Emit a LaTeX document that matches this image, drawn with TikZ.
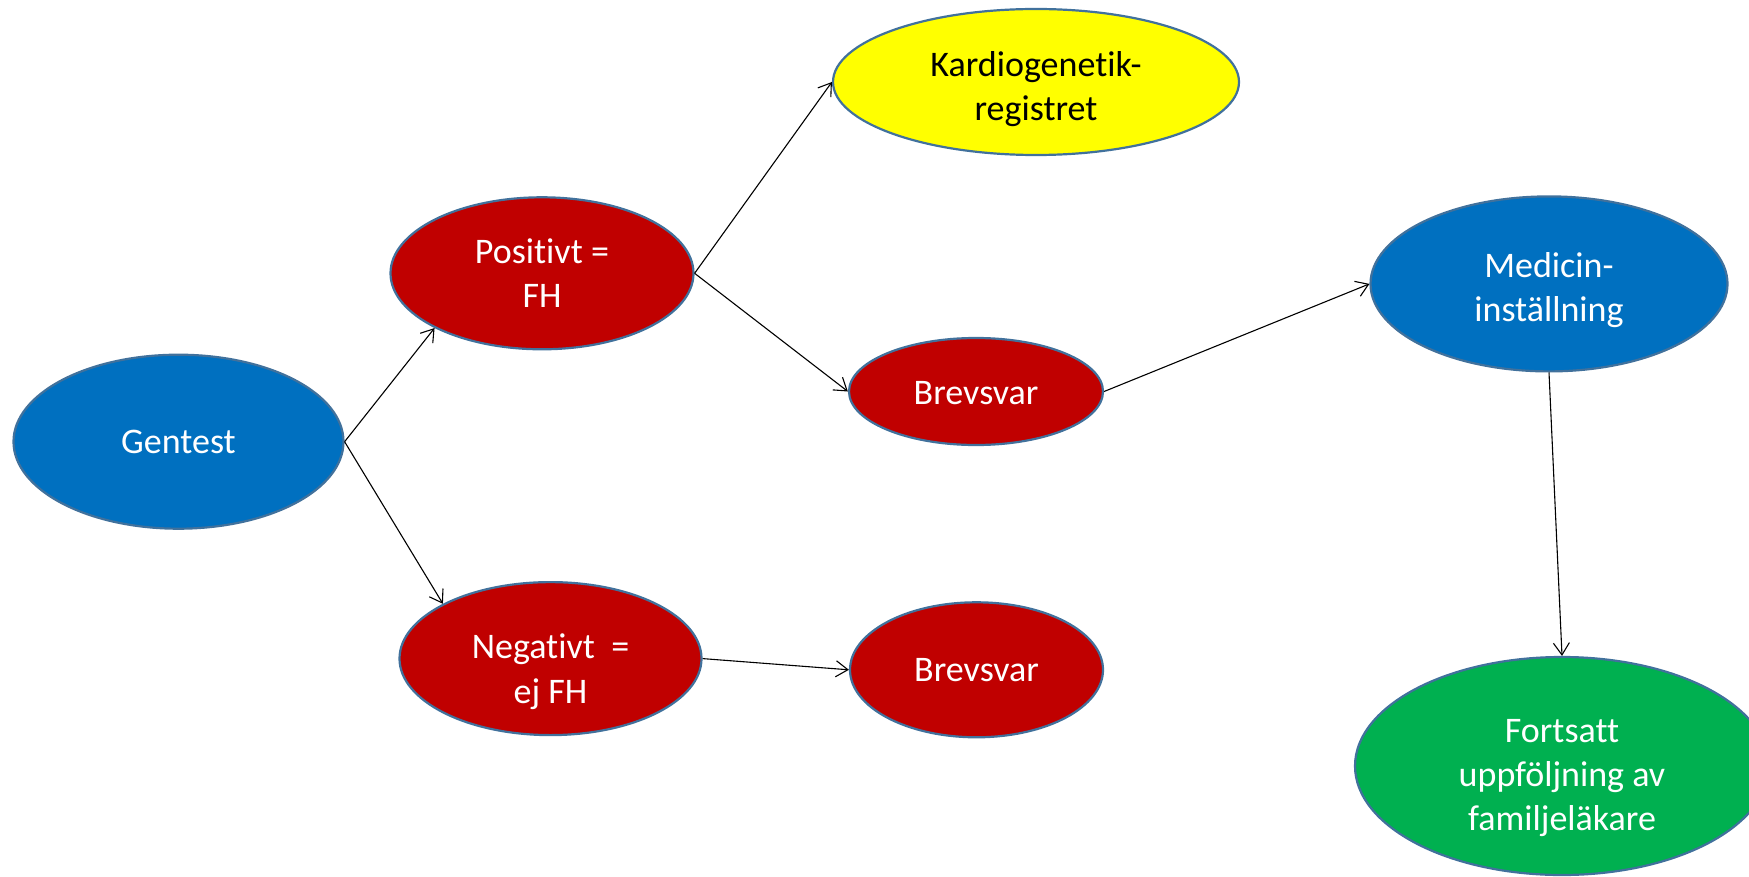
\documentclass[tikz,border=0pt]{standalone}
\usepackage{fontspec}
\setmainfont[Ligatures=NoCommon]{Carlito}
\usetikzlibrary{shapes.geometric,arrows.meta}
\definecolor{cblue}{HTML}{0070C0}
\definecolor{cred}{HTML}{C00000}
\definecolor{cyellow}{HTML}{FFFF00}
\definecolor{cgreen}{HTML}{00B050}
\definecolor{cborder}{HTML}{41719C}
\tikzset{
  bubble/.style={ellipse, draw=cborder, line width=1.1pt, inner sep=0pt},
  lbl/.style={inner sep=0pt, align=center, text=white, font=\fontsize{18}{22.2}\selectfont},
  link/.style={draw=black, line width=0.55pt, -{Straight Barb[length=6pt,width=8pt]}}
}
\begin{document}
\begin{tikzpicture}[x=0.5pt,y=-0.5pt]
\useasboundingbox (0,0) rectangle (1749,877);
\clip (0,0) rectangle (1749,877);
\node[bubble, fill=cblue, minimum width=330pt/2, minimum height=174pt/2] (gentest) at (178.5,441.7) {};
\node[bubble, fill=cred, minimum width=303pt/2, minimum height=152pt/2] (positivt) at (542,273.3) {};
\node[bubble, fill=cred, minimum width=302pt/2, minimum height=153pt/2] (negativt) at (550.5,658.6) {};
\node[bubble, fill=cyellow, minimum width=406pt/2, minimum height=146pt/2] (kardio) at (1036,82) {};
\node[bubble, fill=cred, minimum width=254pt/2, minimum height=107pt/2] (brev1) at (976,391.5) {};
\node[bubble, fill=cred, minimum width=253pt/2, minimum height=135pt/2] (brev2) at (976.5,669.8) {};
\node[bubble, fill=cblue, minimum width=357pt/2, minimum height=175pt/2] (medicin) at (1549,283.9) {};
\node[bubble, fill=cgreen, minimum width=414pt/2, minimum height=218pt/2] (fortsatt) at (1562,766) {};
\node[lbl] (gentestT) at (gentest) {Gentest};
\node[lbl] (positivtT) at (positivt) {Positivt =\\FH};
\node[lbl] (negativtT) at ([yshift=-6.5pt]negativt.center) {Negativt\ \ =\\ej FH};
\node[lbl, text=black] (kardioT) at ([yshift=-3.5pt]kardio.center) {Kardiogenetik-\\registret};
\node[lbl] (brev1T) at ([yshift=-1pt]brev1.center) {Brevsvar};
\node[lbl] (brev2T) at (brev2) {Brevsvar};
\node[lbl] (medicinT) at ([yshift=-3pt]medicin.center) {Medicin-\\inställning};
\node[lbl] (fortsattT) at ([yshift=-6pt]fortsatt.center) {Fortsatt\\uppföljning av\\familjeläkare};
\draw[link] (gentest.east) -- (positivt.207);
\draw[link] (gentest.east) -- (negativt.153);
\draw[link] (positivt.east) -- (kardio.west);
\draw[link] (positivt.east) -- (brev1.west);
\draw[link] (negativt.east) -- (brev2.west);
\draw[link] (brev1.east) -- (medicin.west);
\draw[link] (medicin.south) -- (fortsatt.north);
\end{tikzpicture}
\end{document}
